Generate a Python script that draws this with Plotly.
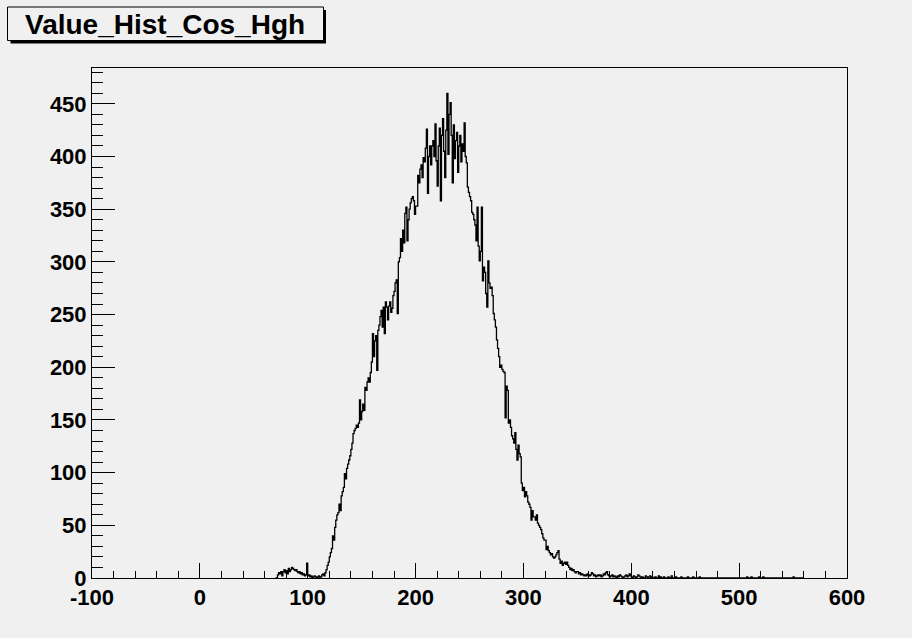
import plotly.graph_objects as go

title_text = "Value_Hist_Cos_Hgh"
bin_lo = 70
bin_width = 1
counts = [
    0, 0, 3, 5, 4, 6, 2, 6, 8, 5,
    7, 4, 9, 6, 8, 10, 9, 8, 7, 8,
    6, 5, 6, 4, 5, 3, 4, 2, 3, 14,
    2, 3, 1, 2, 0, 1, 2, 1, 0, 1,
    2, 0, 1, 3, 4, 2, 5, 8, 12, 15,
    20, 24, 28, 40, 36, 48, 55, 60, 62, 70,
    64, 78, 82, 86, 99, 94, 104, 108, 112, 116,
    122, 128, 137, 140, 142, 145, 143, 147, 169, 150,
    158, 165, 159, 181, 178, 186, 190, 186, 195, 205,
    232, 210, 225, 230, 197, 235, 240, 248, 254, 238,
    257, 232, 262, 257, 245, 258, 262, 252, 256, 268,
    272, 280, 283, 251, 300, 304, 322, 310, 330, 318,
    346, 352, 320, 340, 350, 356, 360, 362, 358, 345,
    353, 353, 382, 375, 388, 392, 380, 399, 395, 408,
    426, 365, 400, 410, 392, 410, 415, 400, 431, 396,
    372, 410, 427, 358, 420, 436, 405, 380, 425, 460,
    402, 440, 451, 420, 375, 430, 398, 415, 423, 385,
    410, 420, 395, 412, 405, 432, 400, 394, 371, 366,
    362, 358, 347, 345, 340, 335, 320, 352, 315, 301,
    310, 352, 282, 295, 290, 270, 257, 301, 280, 275,
    276, 268, 251, 245, 238, 226, 218, 210, 200, 202,
    198, 196, 195, 152, 182, 178, 147, 150, 143, 135,
    132, 128, 138, 122, 112, 126, 118, 115, 90, 83,
    86, 77, 82, 78, 72, 70, 67, 55, 64, 58,
    58, 55, 60, 52, 50, 48, 46, 42, 38, 36,
    36, 27, 30, 26, 24, 22, 23, 20, 19, 20,
    22, 24, 26, 18, 14, 16, 12, 14, 15, 13,
    15, 12, 10, 8, 9, 7, 8, 6, 5, 6,
    6, 4, 5, 3, 4, 3, 2, 3, 2, 4,
    3, 2, 3, 5, 4, 2, 3, 1, 2, 3,
    2, 3, 1, 2, 4, 3, 5, 6, 3, 2,
    1, 2, 3, 1, 2, 1, 0, 2, 1, 3,
    2, 1, 0, 1, 2, 3, 1, 2, 4, 2,
    1, 0, 2, 1, 0, 1, 3, 2, 1, 0,
    1, 0, 0, 2, 1, 0, 1, 2, 0, 1,
    0, 0, 1, 0, 0, 2, 0, 1, 0, 0,
    1, 0, 0, 0, 1, 0, 0, 2, 0, 0,
    0, 1, 0, 0, 0, 0, 1, 0, 0, 0,
    0, 0, 1, 0, 0, 0, 0, 1, 0, 0,
    0, 0, 0, 1, 0, 0, 0, 0, 0, 0,
    0, 0, 0, 0, 0, 0, 0, 0, 0, 0,
    0, 0, 0, 0, 0, 0, 0, 0, 0, 0,
    0, 0, 0, 0, 0, 0, 0, 0, 0, 0,
    0, 0, 0, 0, 0, 0, 0, 1, 0, 0,
    0, 1, 0, 0, 0, 0, 0, 0, 1, 0,
    0, 0, 1, 0, 0, 0, 0, 0, 0, 0,
    0, 0, 0, 0, 0, 0, 0, 0, 0, 0,
    0, 0, 0, 0, 0, 0, 0, 0, 0, 0,
    1, 0, 0, 0, 0, 0, 0, 0, 0, 0,
]
x_range = [-100, 600]
y_range = [0, 484]
x_tick_vals = [-100, 0, 100, 200, 300, 400, 500, 600]
y_tick_vals = [0, 50, 100, 150, 200, 250, 300, 350, 400, 450]

# step outline of the histogram
xs, ys = [], []
for i, c in enumerate(counts):
    xs.append(bin_lo + i * bin_width)
    ys.append(c)
end_edge = bin_lo + len(counts) * bin_width
xs += [end_edge, end_edge]
ys += [counts[-1], 0]

BG = "#f0f0f0"
W, H = 912, 638
L, R, T, B = 92, 847, 68, 578


def px(xp):
    return (xp - L) / (R - L)


def py(yp):
    return (B - yp) / (B - T)


fig = go.Figure()
fig.add_trace(go.Scatter(x=xs, y=ys, mode="lines", line=dict(color="black", width=1.3, shape="hv"),
                         hoverinfo="skip", showlegend=False))

tickfont = dict(family="Liberation Sans", size=22, color="black", weight="bold")

fig.update_layout(
    width=W, height=H,
    margin=dict(l=L, r=W - R, t=T, b=H - B, pad=0),
    paper_bgcolor=BG, plot_bgcolor=BG,
    showlegend=False,
    xaxis=dict(range=x_range, tickvals=x_tick_vals, ticktext=[str(v) for v in x_tick_vals],
               ticks="inside", ticklen=15, tickwidth=1, tickcolor="black",
               minor=dict(ticks="inside", ticklen=7, dtick=20, tick0=-100, tickcolor="black", tickwidth=1),
               showgrid=False, zeroline=False, showline=True, linecolor="black", linewidth=1,
               mirror=True, tickfont=tickfont),
    yaxis=dict(range=y_range, tickvals=y_tick_vals, ticktext=[str(v) for v in y_tick_vals],
               ticks="inside", ticklen=23, tickwidth=1, tickcolor="black",
               minor=dict(ticks="inside", ticklen=11, dtick=10, tick0=0, tickcolor="black", tickwidth=1),
               showgrid=False, zeroline=False, showline=True, linecolor="black", linewidth=1,
               mirror=True, tickfont=tickfont),
)

# title box with shadow
fig.add_shape(type="rect", xref="paper", yref="paper",
              x0=px(10.5), x1=px(326), y0=py(43.5), y1=py(10), fillcolor="black", line=dict(width=0))
fig.add_shape(type="rect", xref="paper", yref="paper",
              x0=px(7.5), x1=px(323.5), y0=py(40.5), y1=py(7), fillcolor=BG,
              line=dict(color="black", width=1))
fig.add_annotation(text=title_text, xref="paper", yref="paper", x=px(165), y=py(24.5),
                   showarrow=False, xanchor="center", yanchor="middle",
                   font=dict(family="Liberation Sans", size=28, color="black", weight="bold"))

fig.write_html("out.html")
